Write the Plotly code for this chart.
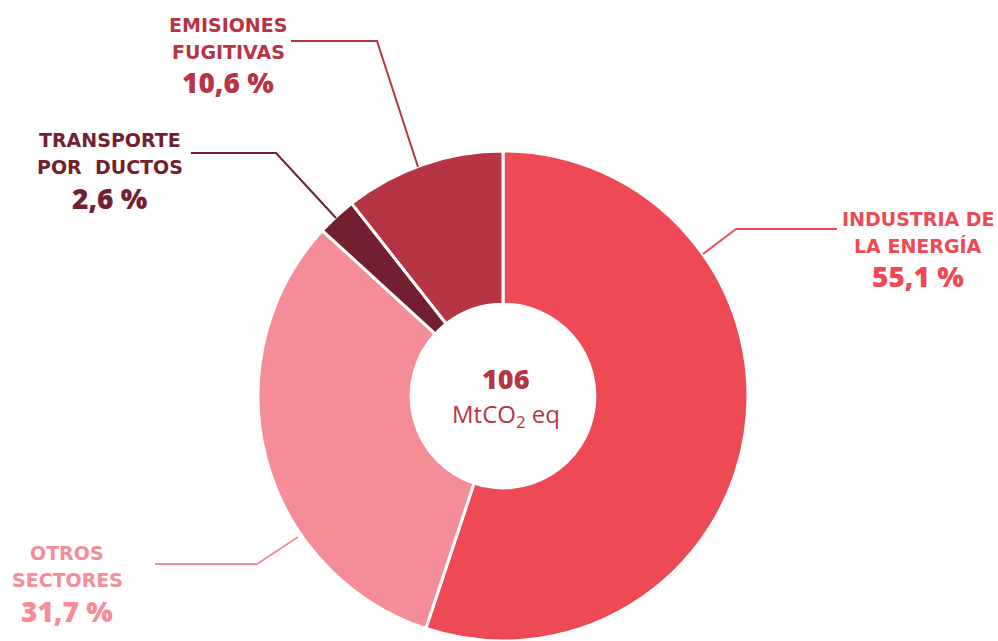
import plotly.graph_objects as go

# ---- data ----
sectors = ["INDUSTRIA DE LA ENERGÍA", "OTROS SECTORES", "TRANSPORTE POR DUCTOS", "EMISIONES FUGITIVAS"]
shares = [55.1, 31.7, 2.6, 10.6]
share_labels = ["55,1 %", "31,7 %", "2,6 %", "10,6 %"]
label_lines = [["INDUSTRIA DE", "LA ENERGÍA"], ["OTROS", "SECTORES"], ["TRANSPORTE", "POR  DUCTOS"], ["EMISIONES", "FUGITIVAS"]]
colors = ["#EE4A55", "#F48D97", "#721F2F", "#B53545"]
total_value = "106"
total_unit = "MtCO<sub>2</sub> eq"

W, H = 998, 641
def px(x):
    return x / W
def py(y):
    return 1 - y / H

fig = go.Figure(go.Pie(
    labels=sectors, values=shares, sort=False, direction="clockwise", rotation=0,
    hole=0.375, marker=dict(colors=colors, line=dict(color="white", width=3)),
    textinfo="none", hoverinfo="label+percent", showlegend=False,
    domain=dict(x=[px(258), px(748)], y=[0, py(151)]),
))

LFONT = "DejaVu Sans"
NFONT = "Open Sans"
# label anchor positions (center x, first line y, second line y, percentage y)
label_pos = [(918, 219, 246, 276), (67, 553, 580, 611), (110, 140, 167, 198), (228, 25, 52, 82)]
annotations = []
for (cx, y1, y2, y3), lines, pct, col in zip(label_pos, label_lines, share_labels, colors):
    for yy, t in zip((y1, y2), lines):
        annotations.append(dict(x=px(cx), y=py(yy), xref="paper", yref="paper", text=t, showarrow=False,
                                xanchor="center", yanchor="middle",
                                font=dict(family=LFONT, size=19, color=col, weight=700)))
    annotations.append(dict(x=px(cx), y=py(y3), xref="paper", yref="paper", text=pct, showarrow=False,
                            xanchor="center", yanchor="middle",
                            font=dict(family=NFONT, size=28, color=col, weight=800)))

annotations.append(dict(x=px(506), y=py(378), xref="paper", yref="paper", text=total_value, showarrow=False,
                        xanchor="center", yanchor="middle", font=dict(family=NFONT, size=27, color="#B53545", weight=800)))
annotations.append(dict(x=px(506), y=py(415), xref="paper", yref="paper", text=total_unit, showarrow=False,
                        xanchor="center", yanchor="middle", font=dict(family=NFONT, size=24, color="#B53545", weight=400)))

# leader lines
leaders = [
    ([(703, 254), (736, 229), (837, 229)], colors[0]),
    ([(298, 537), (257, 564), (155, 564)], colors[1]),
    ([(336, 218), (276, 153), (191, 153)], colors[2]),
    ([(418, 167), (377, 41), (291, 41)], colors[3]),
]
shapes = []
for pts, col in leaders:
    path = "M " + " L ".join(f"{px(x)},{py(y)}" for x, y in pts)
    shapes.append(dict(type="path", xref="paper", yref="paper", path=path, line=dict(color=col, width=2)))

fig.update_layout(width=W, height=H, margin=dict(l=0, r=0, t=0, b=0),
                  paper_bgcolor="white", plot_bgcolor="white",
                  annotations=annotations, shapes=shapes)
fig.write_html("out.html", config={"displayModeBar": False},
               post_script="document.body.style.margin='0';document.body.style.overflow='hidden';")
